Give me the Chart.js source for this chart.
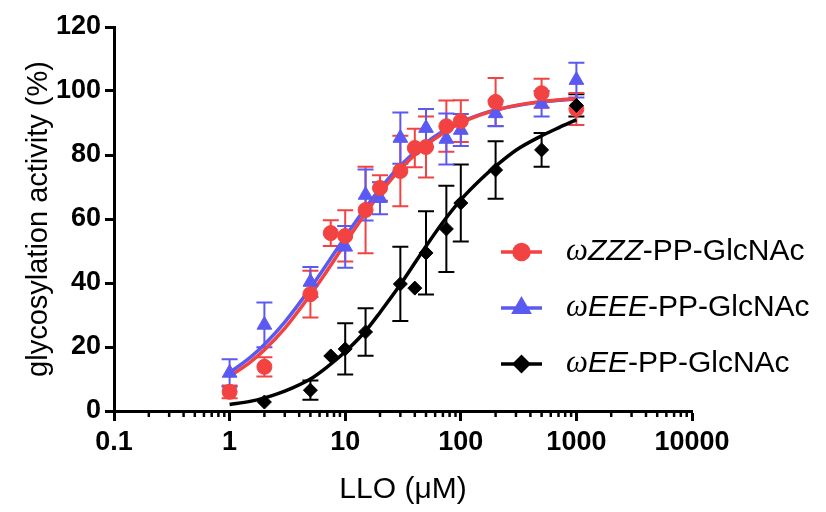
<!DOCTYPE html>
<html>
<head>
<meta charset="utf-8">
<script src="https://cdn.jsdelivr.net/npm/chart.js@4/dist/chart.umd.min.js"></script>
<style>
html, body { margin: 0; padding: 0; background: #fff; }
</style>
</head>
<body>
<canvas id="myChart" width="826" height="512"></canvas>
<script>
// concentrations (uM) of the measured points
var conc = [1, 2, 5, 7.5, 10, 15, 20, 30, 40, 50, 75, 100, 200, 500, 1000];

// wZZZ-PP-GlcNAc
var zzzMean = [6.0, 13.8, 36.5, 55.6, 54.7, 62.8, 69.7, 75.0, 82.2, 82.5, 89.0, 90.6, 96.6, 99.3, 94.4];
var zzzErr  = [2.0, 3.0, 7.3, 4.0, 8.0, 13.5, 4.0, 11.0, 6.0, 9.5, 8.0, 6.5, 7.5, 4.5, 5.0];
// wEEE-PP-GlcNAc
var eeeMean = [11.9, 26.9, 40.3, null, 51.3, 67.5, 66.5, 85.3, null, 88.4, 85.0, 87.8, 93.0, 96.0, 103.4];
var eeeErr  = [4.3, 7.0, 4.7, null, 6.5, 8.0, 5.0, 8.0, null, 6.0, 8.0, 5.0, 4.0, 4.0, 5.4];
// wEE-PP-GlcNAc
var eeMean  = [null, 2.8, 6.5, 17.2, 19.4, 24.7, null, 39.7, 38.4, 49.4, 56.9, 65.0, 75.3, 81.6, 95.5];
var eeErr   = [null, 0, 3.0, 0, 8.0, 7.4, null, 11.6, 0, 13.0, 13.5, 12.0, 9.0, 5.3, 3.5];

// fitted curves
var fitX   = [1, 1.5, 2, 3, 5, 7, 10, 15, 20, 30, 50, 70, 100, 150, 200, 300, 500, 700, 1000];
var zzzFit = [10.8, 15.2, 19.1, 25.8, 36.3, 43.9, 52.4, 61.8, 68.0, 75.6, 83.0, 86.8, 90.0, 92.6, 94.0, 95.5, 96.7, 97.2, 97.6];
var eeeFit = [12.0, 16.7, 20.8, 27.8, 38.4, 46.1, 54.4, 63.5, 69.4, 76.7, 83.8, 87.4, 90.3, 92.8, 94.1, 95.4, 96.6, 97.1, 97.5];
var eeFit  = [2.0, 3.0, 4.1, 6.2, 10.0, 13.8, 18.5, 25.0, 30.8, 39.5, 51.5, 59.0, 66.0, 72.5, 76.5, 81.5, 86.0, 88.5, 91.0];

var xTickVals   = [0.1, 1, 10, 100, 1000, 10000];
var xTickLabels = ['0.1', '1', '10', '100', '1000', '10000'];

var seriesNames = ['ZZZ', 'EEE', 'EE'];
var namePrefix = 'ω';
var nameSuffix = '-PP-GlcNAc';

var RED = '#f24242';
var BLUE = '#5a5af2';
var BLACK = '#000000';
var FONT = '"Liberation Sans", Arial, sans-serif';

function pts(xs, ys) {
  var out = [];
  for (var i = 0; i < xs.length; i++) {
    if (ys[i] !== null) out.push({ x: xs[i], y: ys[i] });
  }
  return out;
}

// error bars behind the markers
var errorBars = {
  id: 'errorBars',
  beforeDatasetsDraw: function (chart) {
    var ctx = chart.ctx;
    var xs = chart.scales.x, ys = chart.scales.y;
    chart.data.datasets.forEach(function (ds) {
      if (!ds.errors) return;
      ctx.save();
      ctx.strokeStyle = ds.borderColor;
      ctx.lineWidth = 2;
      for (var i = 0; i < conc.length; i++) {
        var m = ds.means[i], e = ds.errors[i];
        if (m === null || !e) continue;
        var px = xs.getPixelForValue(conc[i]);
        var top = ys.getPixelForValue(m + e);
        var bot = ys.getPixelForValue(m - e);
        ctx.beginPath();
        ctx.moveTo(px, top); ctx.lineTo(px, bot);
        ctx.moveTo(px - 8, top); ctx.lineTo(px + 8, top);
        ctx.moveTo(px - 8, bot); ctx.lineTo(px + 8, bot);
        ctx.stroke();
      }
      ctx.restore();
    });
  }
};

// minor ticks of the log axis
var minorTicks = {
  id: 'minorTicks',
  afterDraw: function (chart) {
    var ctx = chart.ctx;
    var xs = chart.scales.x;
    var y0 = chart.chartArea.bottom;
    ctx.save();
    ctx.strokeStyle = '#000';
    ctx.lineWidth = 2.5;
    for (var d = 0; d < xTickVals.length - 1; d++) {
      for (var k = 2; k < 10; k++) {
        var px = xs.getPixelForValue(xTickVals[d] * k);
        ctx.beginPath();
        ctx.moveTo(px, y0);
        ctx.lineTo(px, y0 + 6);
        ctx.stroke();
      }
    }
    ctx.restore();
  }
};

// legend with italic compound names
var legendBox = {
  id: 'legendBox',
  afterDraw: function (chart) {
    var ctx = chart.ctx;
    var rows = [
      { color: RED, style: 'circle', r: 7.5 },
      { color: BLUE, style: 'triangle', r: 8.5 },
      { color: BLACK, style: 'rectRot', r: 7 }
    ];
    var x0 = 501, x1 = 542, tx = 566, y = 252, gap = 56;
    ctx.save();
    rows.forEach(function (row, i) {
      var yy = y + i * gap;
      ctx.strokeStyle = row.color;
      ctx.fillStyle = row.color;
      ctx.lineWidth = 3.5;
      ctx.beginPath();
      ctx.moveTo(x0, yy); ctx.lineTo(x1, yy);
      ctx.stroke();
      Chart.helpers.drawPoint(ctx, { pointStyle: row.style, radius: row.r, rotation: 0, borderWidth: 1 }, (x0 + x1) / 2, yy);
      ctx.fillStyle = '#000';
      ctx.textBaseline = 'middle';
      var x = tx;
      ctx.font = 'italic 31px "Liberation Serif", serif';
      ctx.fillText(namePrefix, x, yy);
      x += ctx.measureText(namePrefix).width;
      ctx.font = 'italic 30px ' + FONT;
      ctx.fillText(seriesNames[i], x, yy);
      x += ctx.measureText(seriesNames[i]).width;
      ctx.font = '30px ' + FONT;
      ctx.fillText(nameSuffix, x, yy);
    });
    ctx.restore();
  }
};

var ctx = document.getElementById('myChart').getContext('2d');

var myChart = new Chart(ctx, {
  type: 'scatter',
  data: {
    datasets: [
      {
        data: pts(conc, eeMean), means: eeMean, errors: eeErr,
        pointStyle: 'rectRot', pointRadius: 7, backgroundColor: BLACK, borderColor: BLACK, borderWidth: 1
      },
      {
        data: pts(conc, zzzMean), means: zzzMean, errors: zzzErr,
        pointStyle: 'circle', pointRadius: 7.5, backgroundColor: RED, borderColor: RED, borderWidth: 1
      },
      {
        data: pts(conc, eeeMean), means: eeeMean, errors: eeeErr,
        pointStyle: 'triangle', pointRadius: 8.5, backgroundColor: BLUE, borderColor: BLUE, borderWidth: 1
      },
      {
        data: pts(fitX, eeFit), showLine: true, pointRadius: 0, borderColor: BLACK, borderWidth: 3.5,
        cubicInterpolationMode: 'monotone'
      },
      {
        data: pts(fitX, zzzFit), showLine: true, pointRadius: 0, borderColor: RED, borderWidth: 3.5,
        cubicInterpolationMode: 'monotone'
      },
      {
        data: pts(fitX, eeeFit), showLine: true, pointRadius: 0, borderColor: BLUE, borderWidth: 3.5,
        cubicInterpolationMode: 'monotone'
      }
    ]
  },
  options: {
    responsive: false,
    animation: false,
    devicePixelRatio: 1,
    layout: { padding: { top: 27, right: 134, bottom: 0, left: 0 } },
    plugins: {
      legend: { display: false },
      tooltip: { enabled: false }
    },
    scales: {
      x: {
        type: 'logarithmic',
        min: 0.1,
        max: 10000,
        afterBuildTicks: function (scale) {
          scale.ticks = xTickVals.map(function (v) { return { value: v }; });
        },
        afterFit: function (scale) { scale.height = 101; },
        ticks: {
          autoSkip: false,
          maxRotation: 0,
          padding: 5,
          color: '#000',
          font: { family: FONT, size: 27, weight: 'bold' },
          callback: function (val, idx) { return xTickLabels[idx]; }
        },
        grid: { drawOnChartArea: false, drawTicks: true, tickLength: 10, tickWidth: 3, tickColor: '#000' },
        border: { display: true, color: '#000', width: 3 },
        title: {
          display: true,
          text: 'LLO (μM)',
          color: '#000',
          font: { family: FONT, size: 30 },
          padding: { top: 0, bottom: 4 }
        }
      },
      y: {
        min: 0,
        max: 120,
        afterFit: function (scale) { scale.width = 114; },
        ticks: {
          stepSize: 20,
          padding: 4,
          color: '#000',
          font: { family: FONT, size: 27, weight: 'bold' }
        },
        grid: { drawOnChartArea: false, drawTicks: true, tickLength: 9, tickWidth: 3, tickColor: '#000' },
        border: { display: true, color: '#000', width: 3 },
        title: {
          display: true,
          text: 'glycosylation activity (%)',
          color: '#000',
          font: { family: FONT, size: 29 },
          padding: { top: 22, bottom: 0 }
        }
      }
    }
  },
  plugins: [errorBars, minorTicks, legendBox]
});
</script>
</body>
</html>
